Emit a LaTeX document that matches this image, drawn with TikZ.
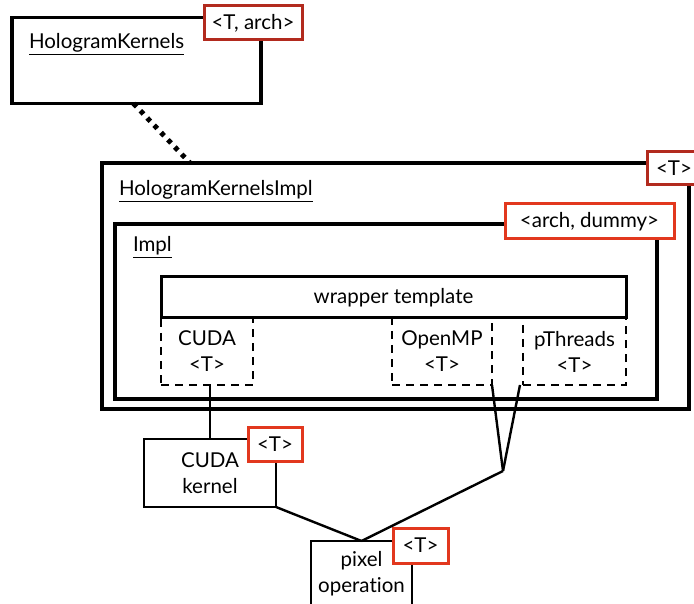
\documentclass[tikz,border=0pt]{standalone}
\usepackage{fontspec}
\setmainfont{Lato}[Ligatures={NoCommon,NoContextual}]
\definecolor{tagdark}{HTML}{B22A1E}
\definecolor{tagred}{HTML}{E2381E}
\begin{document}
\begin{tikzpicture}[x=1pt,y=-1pt,
  font=\fontsize{20.5}{26}\selectfont,
  every node/.style={inner sep=0pt,outer sep=0pt},
  box/.style={draw,line width=#1,rectangle},
  box/.default=3.8pt,
  tagbox/.style={draw=#1,line width=3pt,fill=white,rectangle},
  tagbox/.default=tagred,
  dashbox/.style={draw,line width=2.8pt,dash pattern=on 8pt off 6pt,rectangle,align=center},
  link/.style={line width=2.4pt},
  title/.style={anchor=base west}]
\useasboundingbox (0,0) rectangle (694,604);

% top-level class
\node[box,minimum width=249pt,minimum height=86pt] (hk) at (136.5,60.5) {};
\node[title] (hkt) at (29,49) {\underline{HologramKernels}};
\node[tagbox=tagdark,minimum width=98pt,minimum height=34pt] (hktag) at (253,23) {<T, arch>};

% implementation class with nested Impl
\node[box,minimum width=587pt,minimum height=246pt] (hki) at (395.5,286) {};
\node[title] (hkit) at (119,196) {\underline{HologramKernelsImpl}};
\node[tagbox=tagdark,minimum width=54pt,minimum height=33pt] (hkitag) at (674,168.5) {<T>};

\node[box,minimum width=542pt,minimum height=175pt] (impl) at (386,311.5) {};
\node[title] (implt) at (133,252) {\underline{Impl}};
\node[tagbox,minimum width=169pt,minimum height=35pt] (impltag) at (589.5,221.5) {<arch, dummy>};

% wrapper and its specialisations
\node[box=3pt,minimum width=465pt,minimum height=41pt] (wrap) at (393.5,297.5) {wrapper template};
\node[dashbox,minimum width=92pt,minimum height=67pt] (cudaw) at (207,351.5) {CUDA\\<T>};
\node[dashbox,minimum width=100pt,minimum height=67pt] (omp) at (442,351.5) {OpenMP\\<T>};
\node[dashbox,minimum width=103pt,minimum height=67pt] (pth) at (574.5,351.5) {pThreads\\<T>};

% kernels below
\node[box=2.6pt,minimum width=132pt,minimum height=68pt,align=center] (cudak) at (210,473) {CUDA\\kernel};
\node[tagbox,minimum width=54pt,minimum height=34pt] (cudaktag) at (275,444) {<T>};

\node[box=2.6pt,minimum width=101pt,minimum height=66pt,align=center] (pix) at (361.5,574) {pixel\\operation};
\node[tagbox,minimum width=55pt,minimum height=35pt] (pixtag) at (420.5,545.5) {<T>};

\coordinate (j) at (503,471);

% connectors
\draw[line width=5pt,dash pattern=on 4.5pt off 5.5pt] ([xshift=-3pt]hk.south) -- (hki.north west -| 190,0);
\draw[link] (cudak.north |- cudaw.south) -- (cudak.north);
\draw[link] (omp.south east) -- (j);
\draw[link] ([xshift=-3pt]pth.south west) -- (j);
\draw[link] (j) -- (pix.north);
\draw[link] (cudak.south east) -- (pix.north);
\end{tikzpicture}
\end{document}
